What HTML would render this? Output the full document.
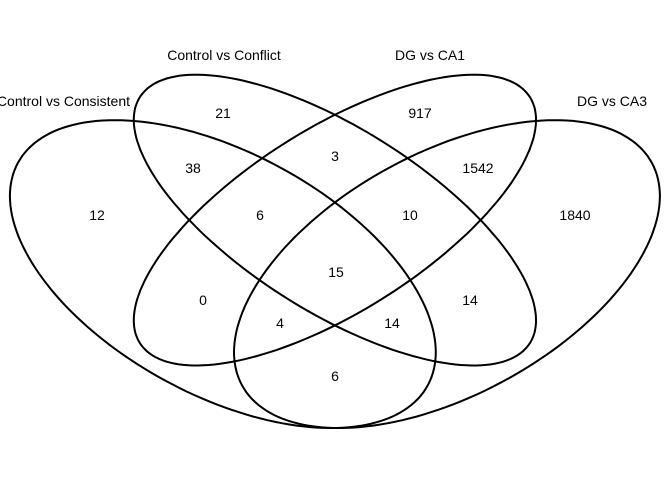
<!DOCTYPE html>
<html><head><meta charset="utf-8"><style>
html,body{margin:0;padding:0;background:#fff;overflow:hidden;}
svg{display:block;font-family:"Liberation Sans",Arial,sans-serif;}
</style></head><body>
<svg id="venn" width="672" height="480" viewBox="0 0 672 480"></svg>
<script>
const setNames = ["Control vs Consistent","Control vs Conflict","DG vs CA1","DG vs CA3"];
const regionCounts = [21,917,38,3,1542,12,6,10,1840,15,0,14,4,14,6];
const regionNames = ["conflict-only","ca1-only","consistent-conflict","conflict-ca1","ca1-ca3","consistent-only","consistent-conflict-ca1","conflict-ca1-ca3","ca3-only","all-four","consistent-ca1","conflict-ca3","consistent-ca1-ca3","consistent-conflict-ca3","consistent-ca3"];
const NS="http://www.w3.org/2000/svg";
const svg=document.getElementById('venn');
const sx=747, sy=540, ox=-38.6, oy=527.9;
function px(u){return ox+u*sx;}
function py(v){return oy-v*sy;}
const ell=[[0.35,0.47,0.35,0.2,135],[0.5,0.57,0.35,0.15,135],[0.5,0.57,0.35,0.15,45],[0.65,0.47,0.35,0.2,45]];
ell.forEach((e,i)=>{
  let pts=[];
  const r=e[4]*Math.PI/180;
  for(let k=0;k<=180;k++){
    const t=k/180*2*Math.PI;
    const x=e[2]*Math.cos(t), y=e[3]*Math.sin(t);
    const u=e[0]+x*Math.cos(r)-y*Math.sin(r), v=e[1]+x*Math.sin(r)+y*Math.cos(r);
    pts.push(px(u).toFixed(1)+','+py(v).toFixed(1));
  }
  const p=document.createElementNS(NS,'polygon');
  p.setAttribute('points',pts.join(' '));
  p.setAttribute('fill','none');p.setAttribute('stroke','#000');p.setAttribute('stroke-width','2');
  
  
  svg.appendChild(p);
});
const labelPos=[[130,106,'end'],[224,60,'middle'],[430,60,'middle'],[612,106,'middle']];
setNames.forEach((n,i)=>{
  const t=document.createElementNS(NS,'text');
  t.setAttribute('x',labelPos[i][0]);t.setAttribute('y',labelPos[i][1]);
  t.setAttribute('text-anchor',labelPos[i][2]);t.setAttribute('font-size','14');
  t.textContent=n;
  
  
  svg.appendChild(t);
});
const regionPos=[[223,118],[420,118],[193,173],[335,161],[478,173],[97,220],[260,220],[410,220],[575,220],[336,277],[203,305],[470,305],[280,328],[392,328],[335,381]];
regionCounts.forEach((c,i)=>{
  const t=document.createElementNS(NS,'text');
  t.setAttribute('x',regionPos[i][0]);t.setAttribute('y',regionPos[i][1]);
  t.setAttribute('text-anchor','middle');t.setAttribute('font-size','14');
  t.textContent=c;
  
  
  svg.appendChild(t);
});
</script>
</body></html>
